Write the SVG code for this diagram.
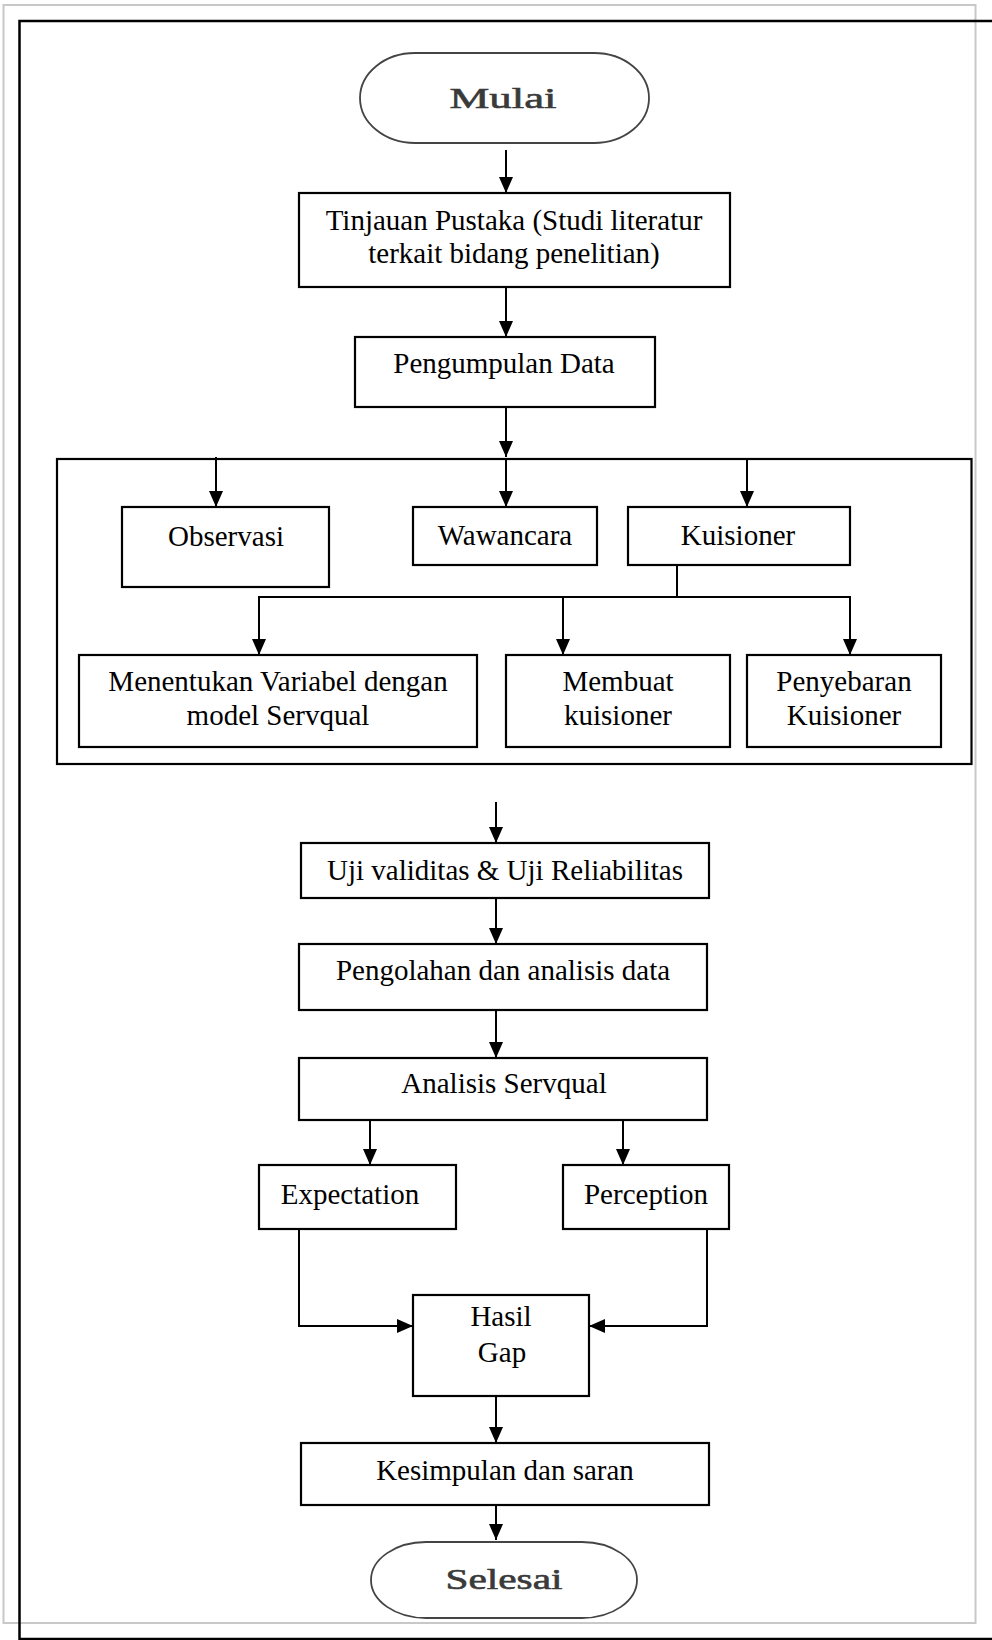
<svg xmlns="http://www.w3.org/2000/svg" width="992" height="1640" viewBox="0 0 992 1640">
<defs>
<marker id="ah" markerUnits="userSpaceOnUse" markerWidth="16" markerHeight="14" refX="16" refY="7" orient="auto">
<path d="M0,0 L16,7 L0,14 z" fill="#000"/>
</marker>
<style>
.box{fill:#fff;stroke:#000;stroke-width:2.2}
.t{font-family:"Liberation Serif","Times New Roman",serif;font-size:29px;fill:#000;text-anchor:middle}
.term{fill:#fff;stroke:#444;stroke-width:1.8}
.tt{font-family:"Liberation Serif","Times New Roman",serif;fill:#3a3a3a;stroke:#3a3a3a;stroke-width:0.6;text-anchor:middle}
.c{fill:none;stroke:#000;stroke-width:2}
.ca{fill:none;stroke:#000;stroke-width:2;marker-end:url(#ah)}
</style>
</defs>
<rect x="0" y="0" width="992" height="1640" fill="#fff"/>
<rect x="3.5" y="5" width="972" height="1618" fill="none" stroke="#c8c8c8" stroke-width="2"/>
<rect x="19.5" y="21" width="976" height="1618" fill="none" stroke="#000" stroke-width="2.5"/>

<g id="n-container"><rect x="57" y="459" width="914.5" height="305" fill="none" stroke="#000" stroke-width="2.2"/></g>

<g id="n-mulai"><rect class="term" x="360" y="53" width="289" height="90" rx="55" ry="45"/><text class="tt" x="503" y="108" font-size="30" textLength="107" lengthAdjust="spacingAndGlyphs">Mulai</text></g>
<g id="n-tinjauan"><rect class="box" x="299" y="193" width="431" height="94"/><text class="t" x="514" y="230">Tinjauan Pustaka (Studi literatur</text><text class="t" x="514" y="263">terkait bidang penelitian)</text></g>
<g id="n-pengumpulan"><rect class="box" x="355" y="337" width="300" height="70"/><text class="t" x="504" y="373">Pengumpulan Data</text></g>
<g id="n-observasi"><rect class="box" x="122" y="507" width="207" height="80"/><text class="t" x="226" y="546">Observasi</text></g>
<g id="n-wawancara"><rect class="box" x="413" y="507" width="184" height="58"/><text class="t" x="505" y="545">Wawancara</text></g>
<g id="n-kuisioner"><rect class="box" x="628" y="507" width="222" height="58"/><text class="t" x="738" y="545">Kuisioner</text></g>
<g id="n-menentukan"><rect class="box" x="79" y="655" width="398" height="92"/><text class="t" x="278" y="691">Menentukan Variabel dengan</text><text class="t" x="278" y="725">model Servqual</text></g>
<g id="n-membuat"><rect class="box" x="506" y="655" width="224" height="92"/><text class="t" x="618" y="691">Membuat</text><text class="t" x="618" y="725">kuisioner</text></g>
<g id="n-penyebaran"><rect class="box" x="747" y="655" width="194" height="92"/><text class="t" x="844" y="691">Penyebaran</text><text class="t" x="844" y="725">Kuisioner</text></g>
<g id="n-uji"><rect class="box" x="301" y="843" width="408" height="55"/><text class="t" x="505" y="880">Uji validitas &amp; Uji Reliabilitas</text></g>
<g id="n-pengolahan"><rect class="box" x="299" y="944" width="408" height="66"/><text class="t" x="503" y="980">Pengolahan dan analisis data</text></g>
<g id="n-analisis"><rect class="box" x="299" y="1058" width="408" height="62"/><text class="t" x="504" y="1093">Analisis Servqual</text></g>
<g id="n-expectation"><rect class="box" x="259" y="1165" width="197" height="64"/><text class="t" x="350" y="1204">Expectation</text></g>
<g id="n-perception"><rect class="box" x="563" y="1165" width="166" height="64"/><text class="t" x="646" y="1204">Perception</text></g>
<g id="n-hasil"><rect class="box" x="413" y="1295" width="176" height="101"/><text class="t" x="501" y="1326">Hasil</text><text class="t" x="502" y="1362">Gap</text></g>
<g id="n-kesimpulan"><rect class="box" x="301" y="1443" width="408" height="62"/><text class="t" x="505" y="1480">Kesimpulan dan saran</text></g>
<g id="n-selesai"><rect class="term" x="371" y="1542" width="266" height="76" rx="55" ry="38"/><text class="tt" x="504" y="1589" font-size="29" textLength="117" lengthAdjust="spacingAndGlyphs">Selesai</text></g>

<g id="connectors">
<line class="ca" x1="506" y1="150" x2="506" y2="193"/>
<line class="ca" x1="506" y1="287" x2="506" y2="337"/>
<line class="ca" x1="506" y1="407" x2="506" y2="457"/>
<line class="ca" x1="216" y1="457" x2="216" y2="507"/>
<line class="ca" x1="506" y1="459" x2="506" y2="507"/>
<line class="ca" x1="747" y1="459" x2="747" y2="507"/>
<line class="c" x1="677" y1="565" x2="677" y2="597" stroke-width="1.5"/>
<line class="c" x1="258" y1="597" x2="851" y2="597"/>
<line class="ca" x1="259" y1="597" x2="259" y2="655"/>
<line class="ca" x1="563" y1="597" x2="563" y2="655"/>
<line class="ca" x1="850" y1="597" x2="850" y2="655"/>
<line class="ca" x1="496" y1="802" x2="496" y2="843"/>
<line class="ca" x1="496" y1="898" x2="496" y2="944"/>
<line class="ca" x1="496" y1="1010" x2="496" y2="1058"/>
<line class="ca" x1="370" y1="1120" x2="370" y2="1165"/>
<line class="ca" x1="623" y1="1120" x2="623" y2="1165"/>
<polyline class="ca" points="299,1229 299,1326 413,1326"/>
<polyline class="ca" points="707,1229 707,1326 589,1326"/>
<line class="ca" x1="496" y1="1396" x2="496" y2="1443"/>
<line class="ca" x1="496" y1="1505" x2="496" y2="1540"/>
</g>
</svg>
